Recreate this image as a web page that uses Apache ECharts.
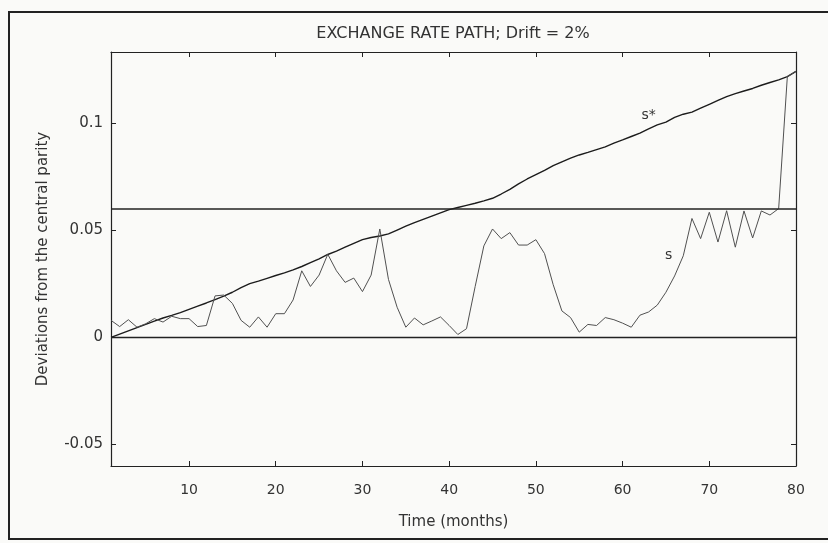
<!DOCTYPE html>
<html>
<head>
<meta charset="utf-8">
<script src="https://cdn.jsdelivr.net/npm/echarts@6/dist/echarts.min.js"></script>
<style>
html, body { margin: 0; background: #fafaf8; }
#main { width: 828px; height: 543px; }
</style>
</head>
<body>
<div id="main"></div>
<script>
// target rate s* and actual rate s, months 1..80
var sStar = [
    0.0000, 0.0015, 0.0030, 0.0045, 0.0060, 0.0075, 0.0090, 0.0102, 0.0115, 0.0130,
    0.0145, 0.0160, 0.0176, 0.0192, 0.0210, 0.0232, 0.0250, 0.0262, 0.0275, 0.0288,
    0.0300, 0.0314, 0.0330, 0.0348, 0.0366, 0.0386, 0.0402, 0.0420, 0.0438, 0.0455,
    0.0465, 0.0472, 0.0482, 0.0500, 0.0518, 0.0535, 0.0550, 0.0565, 0.0580, 0.0595,
    0.0605, 0.0615, 0.0625, 0.0636, 0.0648, 0.0668, 0.0690, 0.0715, 0.0738, 0.0758,
    0.0778, 0.0800, 0.0818, 0.0835, 0.0850, 0.0862, 0.0875, 0.0888, 0.0905, 0.0920,
    0.0936, 0.0952, 0.0972, 0.0990, 0.1003, 0.1025, 0.1040, 0.1050, 0.1068, 0.1086,
    0.1104, 0.1122, 0.1136, 0.1148, 0.1160, 0.1175, 0.1188, 0.1200, 0.1215, 0.1240
];
var sPath = [
    0.0079, 0.0050, 0.0082, 0.0047, 0.0063, 0.0087, 0.0071, 0.0098, 0.0087, 0.0087,
    0.0050, 0.0055, 0.0193, 0.0197, 0.0158, 0.0079, 0.0047, 0.0095, 0.0047, 0.0110,
    0.0110, 0.0174, 0.0310, 0.0237, 0.0290, 0.0387, 0.0310, 0.0256, 0.0276, 0.0213,
    0.0290, 0.0505, 0.0270, 0.0140, 0.0047, 0.0090, 0.0058, 0.0076, 0.0095, 0.0055,
    0.0013, 0.0040, 0.0237, 0.0426, 0.0505, 0.0460, 0.0488, 0.0430, 0.0430, 0.0455,
    0.0390, 0.0245, 0.0123, 0.0092, 0.0024, 0.0060, 0.0055, 0.0092, 0.0082, 0.0066,
    0.0047, 0.0103, 0.0118, 0.0150, 0.0210, 0.0286, 0.0380, 0.0554, 0.0460, 0.0583,
    0.0444, 0.0590, 0.0420, 0.0589, 0.0463, 0.0589, 0.0570, 0.0600, 0.1215, 0.1240
];
var bandLines = [0, 0.06];
var xTicks = [10, 20, 30, 40, 50, 60, 70, 80];
var yTicks = [-0.05, 0, 0.05, 0.1];

function pairs(arr) {
    return arr.map(function (v, i) { return [i + 1, v]; });
}

var font = 'DejaVu Sans';
var ink = '#222';
var txt = '#333';
var tickStyle = { color: ink, width: 1 };

var myChart = echarts.init(document.getElementById('main'));

var option = {
    animation: false,
    title: {
        text: 'EXCHANGE RATE PATH; Drift = 2%',
        left: 448,
        textAlign: 'center',
        top: 21,
        textStyle: { fontFamily: font, fontSize: 16, fontWeight: 'normal', color: txt }
    },
    graphic: [{
        type: 'rect',
        shape: { x: 9, y: 12, width: 840, height: 527 },
        style: { fill: 'none', stroke: ink, lineWidth: 2 },
        silent: true
    }],
    grid: { left: 111, right: 32, top: 52, bottom: 77 },
    xAxis: [{
        type: 'value', min: 1, max: 80, position: 'bottom',
        name: 'Time (months)', nameLocation: 'middle', nameGap: 49,
        nameTextStyle: { fontFamily: font, fontSize: 15, color: txt },
        axisLine: { onZero: false, lineStyle: { color: ink, width: 1.2 } },
        axisTick: { inside: true, length: 5, customValues: xTicks, lineStyle: tickStyle },
        axisLabel: { customValues: xTicks, margin: 17, fontFamily: font, fontSize: 14, color: txt },
        splitLine: { show: false }
    }, {
        type: 'value', min: 1, max: 80, position: 'top',
        axisLine: { onZero: false, lineStyle: { color: ink, width: 1.2 } },
        axisTick: { inside: true, length: 5, customValues: xTicks, lineStyle: tickStyle },
        axisLabel: { show: false },
        splitLine: { show: false }
    }],
    yAxis: [{
        type: 'value', min: -0.06, max: 0.133, position: 'left',
        name: 'Deviations from the central parity', nameLocation: 'middle', nameGap: 60,
        nameTextStyle: { fontFamily: font, fontSize: 15, color: txt },
        axisLine: { show: true, onZero: false, lineStyle: { color: ink, width: 1.2 } },
        axisTick: { show: true, inside: true, length: 5, customValues: yTicks, lineStyle: tickStyle },
        axisLabel: { customValues: yTicks, margin: 8, fontFamily: font, fontSize: 15, color: txt },
        splitLine: { show: false }
    }, {
        type: 'value', min: -0.06, max: 0.133, position: 'right',
        axisLine: { show: true, onZero: false, lineStyle: { color: ink, width: 1.2 } },
        axisTick: { show: true, inside: true, length: 5, customValues: yTicks, lineStyle: tickStyle },
        axisLabel: { show: false },
        splitLine: { show: false }
    }],
    series: [{
        type: 'line',
        name: 's*',
        data: pairs(sStar),
        symbol: 'none',
        lineStyle: { color: '#1c1c1c', width: 1.4 },
        markLine: {
            silent: true,
            symbol: ['none', 'none'],
            label: { show: false },
            lineStyle: { type: 'solid', color: ink, width: 1.3 },
            data: bandLines.map(function (v, i) {
                return { yAxis: v, lineStyle: { width: i === 1 ? 1.7 : 1.3 } };
            })
        },
        markPoint: {
            silent: true,
            symbolSize: 0,
            label: { show: true, position: 'inside', fontFamily: font, fontSize: 14, color: txt },
            data: [
                { coord: [63.0, 0.1035], label: { formatter: 's*' } },
                { coord: [65.3, 0.0384], label: { formatter: 's' } }
            ]
        }
    }, {
        type: 'line',
        name: 's',
        data: pairs(sPath),
        symbol: 'none',
        lineStyle: { color: '#505050', width: 1 }
    }]
};

myChart.setOption(option);
</script>
</body>
</html>
